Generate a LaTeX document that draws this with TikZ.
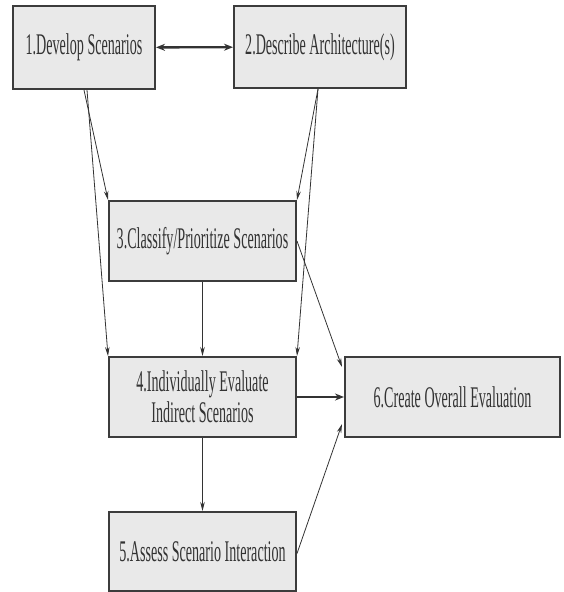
\documentclass[tikz,border=0pt]{standalone}
\usepackage{fontspec}
\newfontfamily\condserif[FakeStretch=0.47]{Liberation Serif}
\usetikzlibrary{arrows.meta,calc}
\definecolor{boxfill}{HTML}{E9E9E9}
\definecolor{boxline}{HTML}{3C3C3C}
\definecolor{inkgray}{HTML}{333333}
\tikzset{
  stagebox/.style={draw=boxline, line width=2pt, fill=boxfill, text=inkgray,
    font=\condserif\fontsize{30}{31}\selectfont, align=center,
    inner sep=0pt, anchor=center},
  flow/.style={draw=inkgray, line width=0.8pt, -{Stealth[length=9pt,width=4.5pt]}},
  bigflow/.style={draw=inkgray, line width=2.4pt, -{Stealth[length=9pt,width=7pt]}}
}
\begin{document}
\begin{tikzpicture}[x=1pt, y=-1pt]
    \useasboundingbox (0, 0) rectangle (563, 592);

    % 六个步骤
    \node[stagebox, minimum width=142pt, minimum height=83pt] (dev) at (84, 47.5) {1.Develop Scenarios};
    \node[stagebox, minimum width=172pt, minimum height=82pt] (arch) at (320, 47) {2.Describe Architecture(s)};
    \node[stagebox, minimum width=187pt, minimum height=80pt] (cls) at (202.5, 241) {3.Classify/Prioritize Scenarios};
    \node[stagebox, minimum width=187pt, minimum height=80pt] (ind) at (202.5, 397) {4.Individually Evaluate\\Indirect Scenarios};
    \node[stagebox, minimum width=187pt, minimum height=79pt] (inter) at (202.5, 551.5) {5.Assess Scenario Interaction};
    \node[stagebox, minimum width=215pt, minimum height=80pt] (overall) at (452.5, 397) {6.Create Overall Evaluation};

    % 1 与 2 互相
    \draw[bigflow, {Stealth[length=9pt,width=7pt]}-{Stealth[length=9pt,width=7pt]}] (dev) -- (arch);

    % 从 1 和 2 向下
    \draw[flow] (dev.south) -- (cls.north west);
    \draw[flow] ($(dev.south)+(3,0)$) -- (ind.north west);
    \draw[flow] ($(arch.south)+(-2,0)$) -- (cls.north east);
    \draw[flow] ($(arch.south)+(-2,0)$) -- (ind.north east);

    % 3 到 4 到 5
    \draw[flow] (cls.south) -- (ind.north);
    \draw[flow] (ind.south) -- (inter.north);

    % 汇入 6
    \draw[flow] (cls.east) -- ($(overall.north west)+(-2,11)$);
    \draw[bigflow] (ind.east) -- (overall.west);
    \draw[flow] ($(inter.east)+(0,2)$) -- ($(overall.south west)+(-2,-14)$);
\end{tikzpicture}
\end{document}
